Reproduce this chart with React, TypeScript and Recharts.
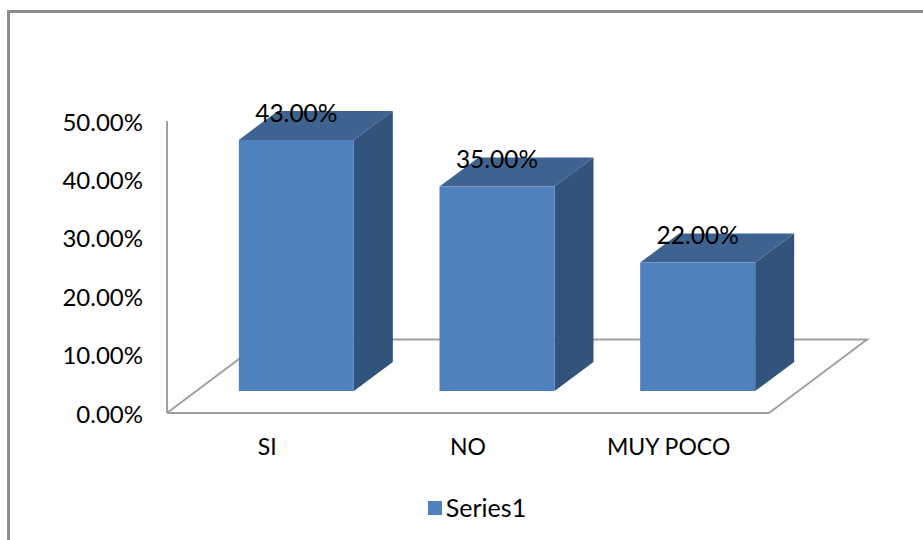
import { Bar, BarChart, LabelList, Legend, XAxis, YAxis, usePlotArea } from "recharts";

const categories = ["SI", "NO", "MUY POCO"];
const seriesValues = [43, 35, 22];
const yTicks = [0, 10, 20, 30, 40, 50];

const data = categories.map((name, i) => ({ name, Series1: seriesValues[i] }));

const FONT = "Lato, 'Noto Sans', sans-serif";
const AXIS_GRAY = "#a0a0a0";
const FRONT = "#4f81bd";
const TOP = "#3e6390";
const SIDE = "#32547c";

// oblique projection used by the boxes and the floor
const BOX_DX = 39;
const BOX_DY = 29;
const SHIFT_X = 29;
const SHIFT_Y = 22;
const FLOOR_DX = 98;
const FLOOR_DY = 73.5;

const pct = (v: number) => `${v.toFixed(2)}%`;

// floor and back edge behind the bars
const Floor = () => {
  const plot = usePlotArea();
  if (!plot) return null;
  const left = plot.x;
  const right = plot.x + plot.width;
  const bottom = plot.y + plot.height;
  const d = `M${left} ${bottom} L${left + FLOOR_DX} ${bottom - FLOOR_DY} L${right + FLOOR_DX} ${bottom - FLOOR_DY} L${right} ${bottom}`;
  return <path d={d} fill="none" stroke={AXIS_GRAY} strokeWidth={2} />;
};

const Box = ({ x, y, width, height }: any) => {
  const fx = x + SHIFT_X;
  const fy = y - SHIFT_Y;
  const r = fx + width;
  const b = fy + height;
  return (
    <g>
      <path
        d={`M${fx} ${fy} L${fx + BOX_DX} ${fy - BOX_DY} L${r + BOX_DX} ${fy - BOX_DY} L${r} ${fy} Z`}
        fill={TOP}
      />
      <path
        d={`M${r} ${fy} L${r + BOX_DX} ${fy - BOX_DY} L${r + BOX_DX} ${b - BOX_DY} L${r} ${b} Z`}
        fill={SIDE}
      />
      <rect x={fx} y={fy} width={width} height={height} fill={FRONT} />
    </g>
  );
};

const ValueLabel = ({ x, y, width, value }: any) => (
  <text
    x={x + SHIFT_X + width / 2}
    y={y - SHIFT_Y - 24.5}
    textAnchor="middle"
    dominantBaseline="middle"
    fontFamily={FONT}
    fontSize={24.5}
    fill="#000"
  >
    {pct(value)}
  </text>
);

export default function App() {
  return (
    <div style={{ position: "absolute", left: 0, top: 0, width: 923, height: 540, background: "#fff", overflow: "hidden" }}>
      <div
        style={{
          position: "absolute",
          left: 7,
          top: 10,
          width: 916,
          height: 530,
          boxSizing: "border-box",
          borderLeft: "3px solid #8c8c8c",
          borderTop: "3px solid #8c8c8c",
        }}
      />
      <div style={{ position: "absolute", left: 0, top: 0 }}>
        <BarChart
          width={923}
          height={540}
          data={data}
          margin={{ top: 121, right: 154, bottom: 0, left: 0 }}
          barCategoryGap="21.35%"
        >
          <Floor />
          <XAxis
            dataKey="name"
            height={127}
            tickLine={false}
            tickSize={0}
            tickMargin={26}
            axisLine={{ stroke: AXIS_GRAY, strokeWidth: 2 }}
            tick={{ fontFamily: FONT, fontSize: 23, fill: "#000" }}
            interval={0}
          />
          <YAxis
            width={167}
            domain={[0, 50]}
            ticks={yTicks}
            tickFormatter={pct}
            tickLine={false}
            tickSize={0}
            tickMargin={24}
            axisLine={{ stroke: AXIS_GRAY, strokeWidth: 2 }}
            tick={{ fontFamily: FONT, fontSize: 24, fill: "#000", dy: 1 }}
          />
          <Legend
            verticalAlign="middle"
            iconType="square"
            iconSize={14}
            wrapperStyle={{ position: "absolute", left: 417, top: 487, width: 130, textAlign: "left" }}
            formatter={(v) => (
              <span style={{ color: "#000", fontFamily: FONT, fontSize: 25, position: "relative", top: 5 }}>{v}</span>
            )}
          />
          <Bar dataKey="Series1" fill={FRONT} shape={<Box />} isAnimationActive={false}>
            <LabelList dataKey="Series1" content={<ValueLabel />} />
          </Bar>
        </BarChart>
      </div>
    </div>
  );
}
